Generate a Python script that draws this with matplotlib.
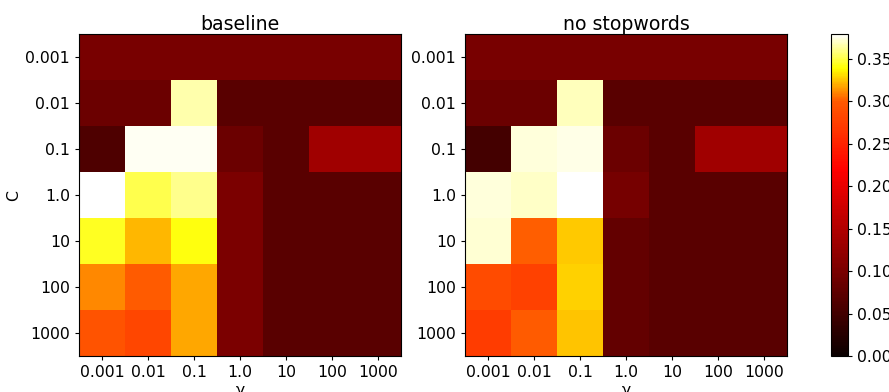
#
########################################################################
# Bibliotecas
########################################################################
#
import numpy as np
import matplotlib
matplotlib.use("Agg")
import matplotlib.pyplot as plt
from matplotlib.colors import Normalize

#
########################################################################
# Normalizacao com ponto medio (estilo exemplo do sklearn)
########################################################################
#
class MidpointNormalize(Normalize):
    def __init__(self, vmin=None, vmax=None, midpoint=None, clip=False):
        self.midpoint = midpoint
        Normalize.__init__(self, vmin, vmax, clip)

    def __call__(self, value, clip=None):
        x, y = [self.vmin, self.midpoint, self.vmax], [0, 0.5, 1]
        return np.ma.masked_array(np.interp(value, x, y))

#
########################################################################
# Dados
########################################################################
#
C_range = ["0.001", "0.01", "0.1", "1.0", "10", "100", "1000"]
gamma_range = ["0.001", "0.01", "0.1", "1.0", "10", "100", "1000"]

scores_baseline = [
    [0.100, 0.100, 0.100, 0.100, 0.100, 0.100, 0.100],
    [0.089, 0.089, 0.366, 0.071, 0.071, 0.071, 0.071],
    [0.062, 0.377, 0.377, 0.089, 0.071, 0.134, 0.134],
    [0.379, 0.351, 0.361, 0.102, 0.071, 0.071, 0.071],
    [0.344, 0.322, 0.341, 0.102, 0.071, 0.071, 0.071],
    [0.311, 0.300, 0.318, 0.102, 0.071, 0.071, 0.071],
    [0.295, 0.282, 0.318, 0.102, 0.071, 0.071, 0.071],
]

scores_nostop = [
    [0.100, 0.100, 0.100, 0.100, 0.100, 0.100, 0.100],
    [0.089, 0.089, 0.368, 0.071, 0.071, 0.071, 0.071],
    [0.053, 0.373, 0.375, 0.089, 0.071, 0.134, 0.134],
    [0.373, 0.370, 0.379, 0.098, 0.071, 0.071, 0.071],
    [0.372, 0.301, 0.326, 0.080, 0.071, 0.071, 0.071],
    [0.286, 0.277, 0.328, 0.080, 0.071, 0.071, 0.071],
    [0.273, 0.300, 0.325, 0.080, 0.071, 0.071, 0.071],
]

titulos = ["baseline", "no stopwords"]

#
########################################################################
# Figura
########################################################################
#
plt.rcParams["font.size"] = 11.3
plt.rcParams["xtick.major.size"] = 3
plt.rcParams["ytick.major.size"] = 3

vmax = max(np.max(scores_baseline), np.max(scores_nostop))

fig = plt.figure(figsize=(8.89, 3.92), dpi=100)
ax1 = fig.add_axes([0.0889, 0.0918, 0.3622, 0.8214])
ax2 = fig.add_axes([0.5231, 0.0918, 0.3622, 0.8214])
cax = fig.add_axes([0.9348, 0.0918, 0.0191, 0.8214])

for ax, dados, titulo in zip([ax1, ax2], [scores_baseline, scores_nostop], titulos):
    im = ax.imshow(np.array(dados), interpolation="nearest", cmap=plt.cm.hot,
                   norm=MidpointNormalize(vmin=0.0, vmax=vmax, midpoint=0.3))
    ax.set_xticks(np.arange(len(gamma_range)))
    ax.set_xticklabels(gamma_range)
    ax.set_yticks(np.arange(len(C_range)))
    ax.set_yticklabels(C_range)
    ax.set_xlabel("γ", labelpad=2)
    ax.set_title(titulo, pad=3)

ax1.set_ylabel("C", labelpad=3)

# colorbar linear em valor (como nas versoes antigas do matplotlib)
cb = fig.colorbar(im, cax=cax, boundaries=np.linspace(0.0, vmax, 257))
cb.set_ticks(np.arange(0.0, 0.36, 0.05))
cb.ax.set_yticklabels(["%.2f" % t for t in np.arange(0.0, 0.36, 0.05)])

fig.savefig("out.png", dpi=100)
